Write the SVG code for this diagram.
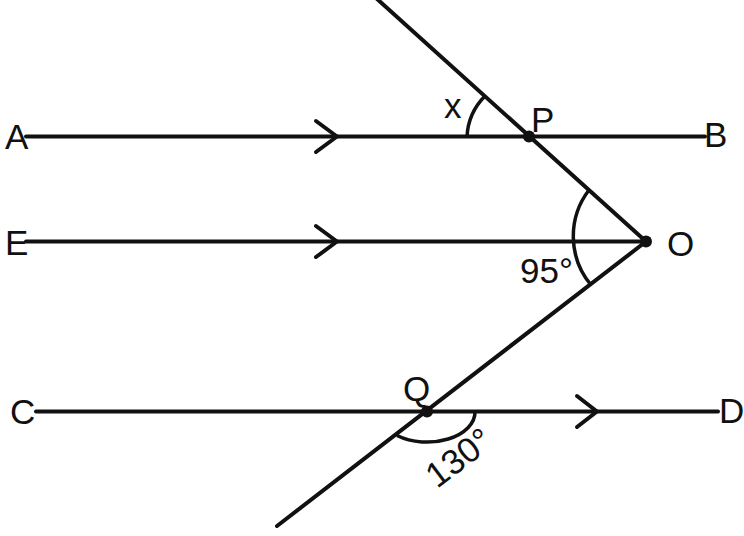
<svg xmlns="http://www.w3.org/2000/svg" width="744" height="536" viewBox="0 0 744 536">
<style>
.ln{stroke:#111;stroke-width:4;fill:none;stroke-linecap:round;stroke-linejoin:round}
.arc{stroke:#111;stroke-width:3.5;fill:none}
.dot{fill:#111}
.lb{font-family:"Liberation Sans",Arial,sans-serif;font-size:35px;fill:#111}
</style>
<rect width="744" height="536" fill="#fff"/>
<g id="connectors">
<line class="ln" x1="26" y1="136.5" x2="705" y2="136.5"/>
<line class="ln" x1="26" y1="241.5" x2="646" y2="241.5"/>
<line class="ln" x1="36" y1="411.5" x2="718" y2="411.5"/>
<line class="ln" x1="376" y1="-2" x2="646" y2="241.5"/>
<line class="ln" x1="646" y1="241.5" x2="277" y2="526"/>
<path class="ln" d="M316 121 L337 136.5 L316 152"/>
<path class="ln" d="M316 226 L337 241.5 L316 257"/>
<path class="ln" d="M577 396 L597 411.5 L577 427"/>
</g>
<g id="angles">
<path class="arc" d="M467 136.5 A62 62 0 0 1 485 96"/>
<path class="arc" d="M589 190 A76 76 0 0 0 591 285"/>
<path class="arc" d="M475 411.5 A48 30 0 0 1 397 435.5"/>
</g>
<g id="node-A"><text class="lb" x="5" y="149">A</text></g>
<g id="node-B"><text class="lb" x="704" y="147">B</text></g>
<g id="node-E"><text class="lb" x="5" y="255">E</text></g>
<g id="node-C"><text class="lb" x="10" y="424">C</text></g>
<g id="node-D"><text class="lb" x="719" y="423">D</text></g>
<g id="node-P"><circle class="dot" cx="529" cy="136.5" r="6"/><text class="lb" x="531" y="132">P</text></g>
<g id="node-O"><circle class="dot" cx="646" cy="241.5" r="6"/><text class="lb" x="667" y="256">O</text></g>
<g id="node-Q"><circle class="dot" cx="427" cy="411.5" r="6"/><text class="lb" x="403" y="401">Q</text></g>
<g id="labels">
<text class="lb" x="444" y="118">x</text>
<text class="lb" x="520" y="283">95°</text>
<text class="lb" transform="translate(437,489) rotate(-37)">130°</text>
</g>
</svg>
